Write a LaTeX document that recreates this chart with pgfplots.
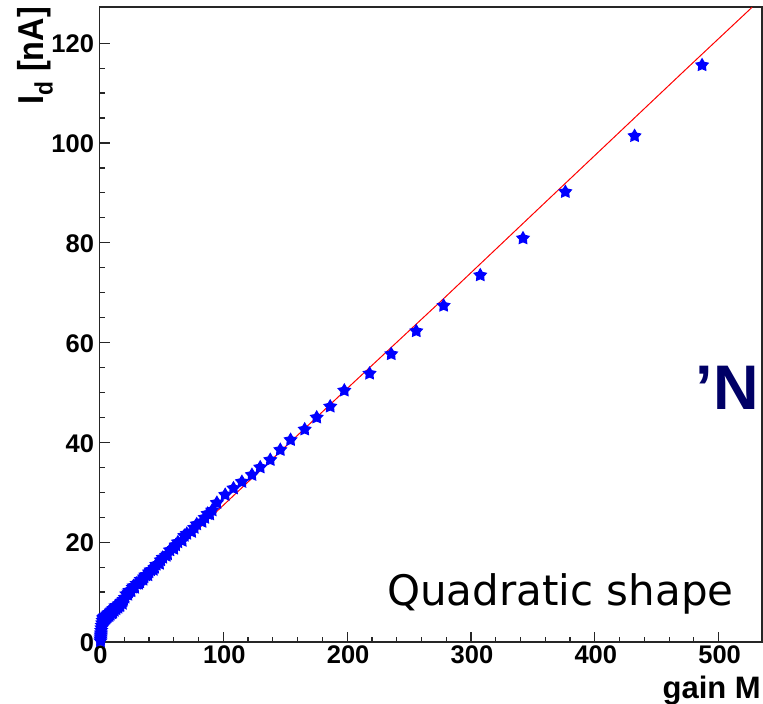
\documentclass[border=0pt]{standalone}
\usepackage{graphicx}
\usepackage{fontspec}
\setmainfont{Liberation Sans}
\newfontfamily\dejavu{DejaVu Sans}
\usepackage{pgfplots}
\pgfplotsset{compat=1.18}
\usepackage{pgfplotstable}
\definecolor{rootblue}{rgb}{0,0,1}
\definecolor{rootred}{rgb}{1,0,0}
\definecolor{navytxt}{RGB}{0,0,102}

\pgfdeclareplotmark{fstar}{%
  \pgfpathmoveto{\pgfpointpolar{90}{\pgfplotmarksize}}%
  \pgfpathlineto{\pgfpointpolar{126}{0.55\pgfplotmarksize}}%
  \pgfpathlineto{\pgfpointpolar{162}{\pgfplotmarksize}}%
  \pgfpathlineto{\pgfpointpolar{198}{0.55\pgfplotmarksize}}%
  \pgfpathlineto{\pgfpointpolar{234}{\pgfplotmarksize}}%
  \pgfpathlineto{\pgfpointpolar{270}{0.55\pgfplotmarksize}}%
  \pgfpathlineto{\pgfpointpolar{306}{\pgfplotmarksize}}%
  \pgfpathlineto{\pgfpointpolar{342}{0.55\pgfplotmarksize}}%
  \pgfpathlineto{\pgfpointpolar{18}{\pgfplotmarksize}}%
  \pgfpathlineto{\pgfpointpolar{54}{0.55\pgfplotmarksize}}%
  \pgfpathclose
  \pgfusepathqfill
}

\pgfplotstableread{
x y
0.8 0.2
0.9 0.6
1.0 1.0
1.1 1.4
1.2 1.8
1.4 2.3
1.6 2.8
1.9 3.3
2.2 3.8
2.6 4.3
3.0 4.8
3.2 4.3
3.4 4.9
3.6 4.4
3.8 5.0
4.0 4.5
4.2 5.1
4.45 4.6
4.7 5.2
5.0 4.7
5.3 5.3
5.6 4.9
5.9 5.4
6.2 5.0
6.6 5.6
7.0 5.2
7.4 5.8
7.8 5.3
8.2 5.9
8.7 5.5
9.2 6.2
9.7 5.8
10.2 6.4
10.5 5.9
10.8 6.0
11.4 6.7
12.0 6.3
12.7 6.9
13.0 7.2
13.4 6.6
14.1 7.3
14.9 6.9
15.7 7.6
16.0 7.2
16.6 7.3
17.5 8.0
18.5 7.7
19.0 8.2
19.5 8.5
20.6 8.9
21.7 9.6
22.9 9.5
23.5 10.0
24.2 10.3
25.5 10.2
26.9 10.9
27.5 11.2
28.4 10.9
30.0 11.7
31.6 11.7
32.5 12.0
33.3 12.5
35.2 12.5
36.0 13.0
37.1 13.4
39.1 13.4
40.0 14.0
41.3 14.4
43.5 14.5
44.5 14.9
45.9 15.5
48.5 15.7
49.5 16.4
51.1 16.9
53.9 17.3
55.0 17.6
56.9 18.4
60.0 18.7
61.5 19.4
63.3 20.0
66.8 20.3
68.5 21.3
70.5 21.7
74.4 22.1
76.5 22.9
78.5 23.6
82.8 24.1
85.0 24.9
87.3 25.7
89.0 25.6
91.0 26.4
94.8 27.9
101.5 29.5
108.2 30.8
115.0 32.1
123.1 33.5
129.8 35.0
137.9 36.5
146.0 38.5
154.3 40.5
165.7 42.6
175.4 45.0
186.3 47.2
197.7 50.4
218.1 53.8
235.6 57.7
255.8 62.3
277.9 67.4
307.5 73.5
342.0 80.9
376.2 90.2
432.1 101.4
486.6 115.6
}\gaindata

\pgfplotstableread{
x y
2.4 4.4
12 6.6
21 8.6
53 16.4
88 24.6
150 39.1
200 50.8
277 68.6
374 91.4
475 115.1
527 127.2
}\fitdata

\begin{document}
\begin{tikzpicture}
\useasboundingbox (0,0) rectangle (763pt,704pt);
\begin{axis}[
  at={(99.5pt,62pt)}, anchor=south west,
  scale only axis, width=662.5pt, height=635pt,
  xmin=0, xmax=535, ymin=0, ymax=127.25,
  xtick={0,100,...,500}, ytick={0,20,...,120},
  minor x tick num=4, minor y tick num=3,
  tick align=inside, xtick pos=left, ytick pos=left,
  major tick length=10pt, minor tick length=5pt,
  axis line style={line width=1.2pt, black!85},
  every tick/.style={black!85, line width=1.2pt},
  tick label style={font=\fontsize{25.5}{26}\selectfont\bfseries},
  yticklabel style={xshift=-2pt, yshift=-1pt},
  xticklabel style={xshift=1pt},
  /pgf/number format/assume math mode=true,
  clip=false,
]
\addplot[rootred, line width=1pt, no marks] table[x=x,y=y] {\fitdata};
\addplot[only marks, mark=fstar, mark size=7.5pt, rootblue, mark options={fill=rootblue, draw=none}] table[x=x,y=y] {\gaindata};
\end{axis}
\node[rotate=90, anchor=base east, inner sep=0pt] at (43pt,697pt)
  {\scalebox{0.9}[1]{\fontsize{36}{36}\selectfont\bfseries I\textsubscript{d} [nA]}};
\node[anchor=base east, inner sep=0pt] at (761pt,5.7pt)
  {\fontsize{31}{31}\selectfont\bfseries gain M};
\node[anchor=base west, inner sep=0pt] at (387pt,98pt)
  {\dejavu\fontsize{42}{42}\selectfont Quadratic shape};
\node[anchor=base east, inner sep=0pt, text=navytxt] at (759pt,294pt)
  {\fontsize{63}{63}\selectfont\bfseries ’N};
\end{tikzpicture}
\end{document}
